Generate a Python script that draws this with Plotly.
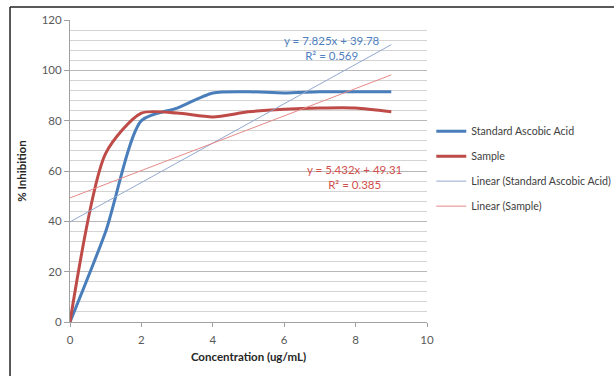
import plotly.graph_objects as go

conc = [0, 1, 2, 3, 4, 5, 6, 7, 8, 9]
standard = [0, 36, 80, 85, 91, 91.5, 91, 91.5, 91.5, 91.5]
sample = [0, 67, 83, 83, 81.5, 83.5, 84.5, 85, 85, 83.5]

std_slope, std_int, std_r2 = 7.825, 39.78, 0.569
smp_slope, smp_int, smp_r2 = 5.432, 49.31, 0.385

trend_x = [0, 9]
std_trend = [std_slope * x + std_int for x in trend_x]
smp_trend = [smp_slope * x + smp_int for x in trend_x]

x_ticks = [0, 2, 4, 6, 8, 10]
y_ticks = [0, 20, 40, 60, 80, 100, 120]

FONT = "Lato"
BLUE = "#4A7EBB"
RED = "#BE4B48"

fig = go.Figure()
fig.add_trace(go.Scatter(x=conc, y=standard, mode="lines", name="Standard Ascobic Acid",
                         line=dict(color=BLUE, width=3, shape="spline", smoothing=0.7),
                         legendgroup="a"))
fig.add_trace(go.Scatter(x=conc, y=sample, mode="lines", name="Sample",
                         line=dict(color=RED, width=3, shape="spline", smoothing=0.7),
                         legendgroup="b"))
fig.add_trace(go.Scatter(x=trend_x, y=std_trend, mode="lines", name="Linear (Standard Ascobic Acid)",
                         line=dict(color="#93A9CF", width=1), legendgroup="c"))
fig.add_trace(go.Scatter(x=trend_x, y=smp_trend, mode="lines", name="Linear (Sample)",
                         line=dict(color="#E48A88", width=1), legendgroup="d"))

fig.add_annotation(x=7.34, y=108.9, xref="x", yref="y",
                   text=f"y = {std_slope}x + {std_int}<br>R² = {std_r2}",
                   showarrow=False, font=dict(family=FONT, size=11.5, color="#4F7FBF"), align="center")
fig.add_annotation(x=7.98, y=57.8, xref="x", yref="y",
                   text=f"y = {smp_slope}x + {smp_int}<br>R² = {smp_r2}",
                   showarrow=False, font=dict(family=FONT, size=11.5, color="#D0504D"), align="center")

# outer chart border (top and left edges visible)
fig.add_shape(type="line", xref="paper", yref="paper", x0=-0.168, x1=1.53, y0=1.043, y1=1.043,
              line=dict(color="#222222", width=1.5))
fig.add_shape(type="line", xref="paper", yref="paper", x0=-0.168, x1=-0.168, y0=1.043, y1=-0.2,
              line=dict(color="#222222", width=1.5))

fig.update_layout(
    width=614, height=376,
    margin=dict(l=70, r=187, t=20, b=54, autoexpand=False),
    paper_bgcolor="white", plot_bgcolor="white",
    font=dict(family=FONT, size=11.5, color="#595959"),
    showlegend=True,
    legend=dict(x=1.012, y=0.68, xanchor="left", yanchor="top",
                font=dict(family=FONT, size=10.6, color="#404040"),
                tracegroupgap=6, traceorder="grouped", bgcolor="rgba(0,0,0,0)"),
    xaxis=dict(range=[0, 10], tickvals=x_ticks, showgrid=False, zeroline=False,
               showline=True, linecolor="#A0A0A0", ticks="outside", ticklen=4, tickcolor="#A0A0A0",
               ticklabelstandoff=3,
               title=dict(text="<b>Concentration (ug/mL)</b>", font=dict(family=FONT, size=11.5, color="#262626"),
                          standoff=8)),
    yaxis=dict(range=[0, 120], tickvals=y_ticks, showgrid=True, gridcolor="#B8B8B8", gridwidth=1.2,
               zeroline=False, showline=True, linecolor="#A0A0A0", ticks="outside", ticklen=5,
               tickcolor="#A0A0A0",
               minor=dict(dtick=4, showgrid=True, gridcolor="#D4D4D4", gridwidth=1.2),
               title=dict(text="<b>% Inhibition</b>", font=dict(family=FONT, size=11.5, color="#262626"),
                          standoff=12)),
)

fig.write_html("out.html")
